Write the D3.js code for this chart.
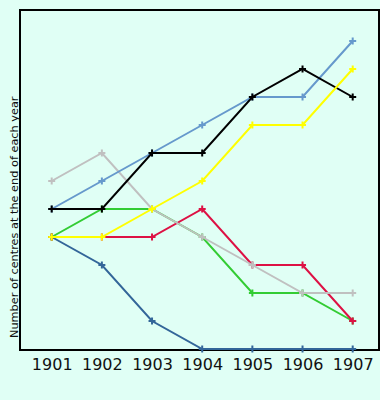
<!DOCTYPE html>
<html><head><meta charset="utf-8">
<script src="https://cdn.jsdelivr.net/npm/d3@7"></script>
<style>body{margin:0;background:#e0fff5;}svg{display:block;}</style>
</head><body>
<script>
const years = ["1901","1902","1903","1904","1905","1906","1907"];
const darkBlue = [4,3,1,0,0,0,0];
const green    = [4,5,5,4,2,2,1];
const red      = [4,4,4,5,3,3,1];
const gray     = [6,7,5,4,3,2,2];
const lightBlue= [5,6,7,8,9,9,11];
const black    = [5,5,7,7,9,10,9];
const yellow   = [4,4,5,6,8,8,10];
const seriesNames = ["darkBlue","green","red","gray","lightBlue","black","yellow"];
const seriesValues = [darkBlue,green,red,gray,lightBlue,black,yellow];
const seriesColors = ["#336699","#33cc33","#dd1144","#c0c0c0","#6699cc","#000000","#ffff00"];
const yLabel = "Number of centres at the end of each year";

const W=380,H=400;
const svg=d3.select("body").append("svg").attr("width",W).attr("height",H);
svg.append("rect").attr("width",W).attr("height",H).attr("fill","#e0fff5");
const x=d3.scalePoint().domain(years).range([51.7,352.7]);
const y=d3.scaleLinear().domain([0,12]).range([349,13]);

svg.append("rect").attr("x",20).attr("y",10).attr("width",359).attr("height",340)
  .attr("fill","none").attr("stroke","#000").attr("stroke-width",2);

const xAxis=svg.append("g").attr("transform","translate(0,350)")
  .call(d3.axisBottom(x).tickSize(0).tickPadding(8.5));
xAxis.select(".domain").remove();
xAxis.selectAll("text").attr("font-family","DejaVu Sans, Verdana, sans-serif")
  .attr("font-size",16).attr("fill","#111");

svg.append("text").attr("transform","translate(17.5,338) rotate(-90)")
  .attr("text-anchor","start").attr("font-family","DejaVu Sans, Verdana, sans-serif")
  .attr("font-size",11.3).attr("fill","#111").text(yLabel);

const line=d3.line().x((d,i)=>x(years[i])).y(d=>y(d));
seriesValues.forEach((vals,k)=>{
  const g=svg.append("g").attr("class","series-"+seriesNames[k]);
  g.append("path").datum(vals).attr("d",line).attr("fill","none")
    .attr("stroke",seriesColors[k]).attr("stroke-width",2);
  const s=3.5;
  g.selectAll("path.m").data(vals).enter().append("path").attr("class","m")
    .attr("d",(d,i)=>{const cx=x(years[i]),cy=y(d);
      return `M${cx-s},${cy}H${cx+s}M${cx},${cy-s}V${cy+s}`;})
    .attr("stroke",seriesColors[k]).attr("stroke-width",2);
});
</script>
</body></html>
